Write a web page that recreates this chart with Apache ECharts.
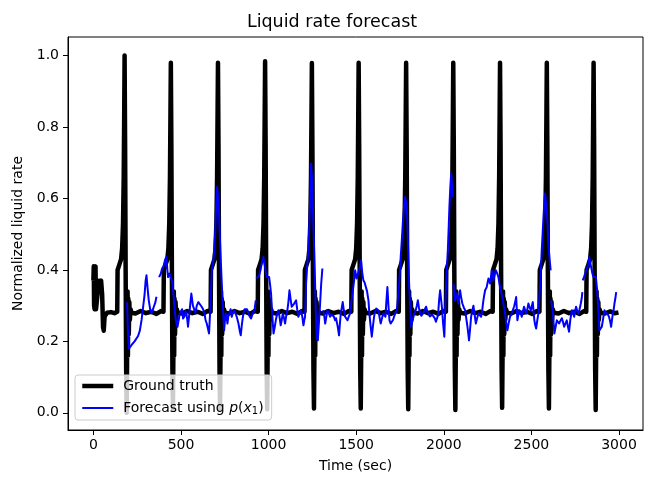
<!DOCTYPE html>
<html>
<head>
<meta charset="utf-8">
<script src="https://cdn.jsdelivr.net/npm/echarts@6/dist/echarts.min.js"></script>
<style>html,body{margin:0;padding:0;background:#fff;}#c{width:664px;height:490px;}</style>
</head>
<body>
<div id="c"></div>
<script>
// Tick values
const xTicks = [0, 500, 1000, 1500, 2000, 2500, 3000];
const yTicks = [0.0, 0.2, 0.4, 0.6, 0.8, 1.0];

// Ground truth: [time (sec), normalized liquid rate]
const groundTruth = [
[0,0.37],[2,0.41],[4,0.30],[7,0.29],[9,0.40],[12,0.41],[15,0.29],[20,0.29],[27,0.35],[32,0.37],[38,0.36],[44,0.37],[50,0.33],[55,0.24],[59,0.23],[64,0.27],[70,0.27],[78,0.28],[100,0.282],[120,0.279],
[136,0.283],[138,0.40],[148,0.415],[158,0.43],[164,0.46],[169,0.53],[173,0.66],[176,0.85],[178,1.0],[181,0.75],[184,0.40],[187,0.12],[190,0.0],[193,0.20],[195,0.34],[197,0.16],[199,0.32],[202,0.22],[205,0.31],[208,0.26],[212,0.29],[218,0.28],
[240,0.278],[270,0.285],[300,0.279],[330,0.283],[360,0.277],[385,0.285],
[400,0.283],[402,0.40],[412,0.415],[422,0.43],[428,0.46],[433,0.53],[437,0.66],[440,0.85],[442,0.98],[445,0.75],[448,0.40],[451,0.12],[454,0.01],[457,0.20],[459,0.34],[461,0.16],[463,0.32],[466,0.22],[469,0.31],[472,0.26],[476,0.29],[482,0.28],
[505,0.278],[535,0.285],[565,0.279],[595,0.283],[625,0.277],[652,0.285],
[669,0.283],[671,0.40],[681,0.415],[691,0.43],[697,0.46],[702,0.53],[706,0.66],[709,0.85],[711,0.98],[714,0.75],[717,0.40],[720,0.12],[723,0.01],[726,0.20],[728,0.34],[730,0.16],[732,0.32],[735,0.22],[738,0.31],[741,0.26],[745,0.29],[751,0.28],
[775,0.278],[805,0.285],[835,0.279],[865,0.283],[895,0.277],[920,0.285],
[938,0.283],[940,0.40],[950,0.415],[960,0.43],[966,0.46],[971,0.53],[975,0.66],[978,0.85],[980,0.984],[983,0.75],[986,0.40],[989,0.12],[992,0.01],[995,0.20],[997,0.34],[999,0.16],[1001,0.32],[1004,0.22],[1007,0.31],[1010,0.26],[1014,0.29],[1020,0.28],
[1045,0.278],[1075,0.285],[1105,0.279],[1135,0.283],[1165,0.277],[1190,0.285],
[1205,0.283],[1207,0.40],[1217,0.415],[1227,0.43],[1233,0.46],[1238,0.53],[1242,0.66],[1245,0.85],[1247,0.979],[1250,0.75],[1253,0.40],[1256,0.12],[1259,0.012],[1262,0.20],[1264,0.34],[1266,0.16],[1268,0.32],[1271,0.22],[1274,0.31],[1277,0.26],[1281,0.29],[1287,0.28],
[1310,0.278],[1340,0.285],[1370,0.279],[1400,0.283],[1430,0.277],[1458,0.285],
[1472,0.283],[1474,0.40],[1484,0.415],[1494,0.43],[1500,0.46],[1505,0.53],[1509,0.66],[1512,0.85],[1514,0.98],[1517,0.75],[1520,0.40],[1523,0.12],[1526,0.012],[1529,0.20],[1531,0.34],[1533,0.16],[1535,0.32],[1538,0.22],[1541,0.31],[1544,0.26],[1548,0.29],[1554,0.28],
[1580,0.278],[1610,0.285],[1640,0.279],[1670,0.283],[1700,0.277],[1728,0.285],
[1743,0.283],[1745,0.40],[1755,0.415],[1765,0.43],[1771,0.46],[1776,0.53],[1780,0.66],[1783,0.85],[1785,0.98],[1788,0.75],[1791,0.40],[1794,0.12],[1797,0.01],[1800,0.20],[1802,0.34],[1804,0.16],[1806,0.32],[1809,0.22],[1812,0.31],[1815,0.26],[1819,0.29],[1825,0.28],
[1850,0.278],[1880,0.285],[1910,0.279],[1940,0.283],[1970,0.277],[1998,0.285],
[2012,0.283],[2014,0.40],[2024,0.415],[2034,0.43],[2040,0.46],[2045,0.53],[2049,0.66],[2052,0.85],[2054,0.98],[2057,0.75],[2060,0.40],[2063,0.12],[2066,0.008],[2069,0.20],[2071,0.34],[2073,0.16],[2075,0.32],[2078,0.22],[2081,0.31],[2084,0.26],[2088,0.29],[2094,0.28],
[2120,0.278],[2150,0.285],[2180,0.279],[2210,0.283],[2240,0.277],[2265,0.285],
[2279,0.283],[2281,0.40],[2291,0.415],[2301,0.43],[2307,0.46],[2312,0.53],[2316,0.66],[2319,0.85],[2321,0.98],[2324,0.75],[2327,0.40],[2330,0.12],[2333,0.014],[2336,0.20],[2338,0.34],[2340,0.16],[2342,0.32],[2345,0.22],[2348,0.31],[2351,0.26],[2355,0.29],[2361,0.28],
[2385,0.278],[2415,0.285],[2445,0.279],[2475,0.283],[2505,0.277],[2532,0.285],
[2546,0.283],[2548,0.40],[2558,0.415],[2568,0.43],[2574,0.46],[2579,0.53],[2583,0.66],[2586,0.85],[2588,0.98],[2591,0.75],[2594,0.40],[2597,0.12],[2600,0.012],[2603,0.20],[2605,0.34],[2607,0.16],[2609,0.32],[2612,0.22],[2615,0.31],[2618,0.26],[2622,0.29],[2628,0.28],
[2655,0.278],[2685,0.285],[2715,0.279],[2745,0.283],[2775,0.277],[2800,0.285],
[2813,0.283],[2815,0.40],[2825,0.415],[2835,0.43],[2841,0.46],[2846,0.53],[2850,0.66],[2853,0.85],[2855,0.98],[2858,0.75],[2861,0.40],[2864,0.12],[2867,0.008],[2870,0.20],[2872,0.34],[2874,0.16],[2876,0.32],[2879,0.22],[2882,0.31],[2885,0.26],[2889,0.29],[2895,0.28],
[2920,0.278],[2950,0.284],[2975,0.279],[2997,0.281]
];

// Forecast using p(x1): [time (sec), value]; null marks a break between segments
const forecast = [
[192,0.31],[197,0.23],[203,0.18],[210,0.175],[218,0.19],[225,0.185],[235,0.20],[245,0.205],[255,0.215],[265,0.23],[275,0.26],[284,0.297],[292,0.33],[298,0.37],[303,0.385],[309,0.35],[316,0.315],[324,0.29],[331,0.279],[340,0.29],[347,0.293],[354,0.31],[360,0.325],[367,null],
[375,0.38],[385,0.39],[392,0.404],[400,0.41],[410,0.43],[417,0.436],[422,0.40],[426,0.38],[434,0.39],[442,0.385],[448,0.37],[455,0.343],[462,0.30],[468,0.269],[474,0.25],[480,0.241],[487,0.26],[493,0.278],[500,0.28],[506,0.29],[512,0.264],[520,0.27],[526,0.285],[531,0.278],[536,0.26],[540,0.241],[548,0.28],[554,0.31],[559,0.334],[568,0.30],[575,0.295],[582,0.28],[590,0.30],[599,0.31],[608,0.305],[618,0.297],[626,0.29],[634,0.278],[640,0.26],[647,0.25],[654,0.235],[660,0.222],[665,0.27],[670,0.315],[676,0.399],[685,0.427],[690,0.46],[695,0.502],[700,0.57],[706,0.632],[712,0.60],[718,0.548],[722,0.49],[727,0.427],[732,0.37],[737,0.315],[742,0.27],[746,0.231],[751,0.26],[756,0.278],[760,0.27],[765,0.25],[770,0.27],[776,0.278],[783,0.29],[790,0.269],[796,0.28],[803,0.287],[810,0.28],[818,0.269],[823,0.26],[828,0.25],[835,0.23],[841,0.217],[848,0.25],[856,0.278],[863,0.29],[870,0.287],[877,0.29],[885,0.278],[892,0.27],[900,0.264],[907,0.275],[913,0.278],[920,0.29],[927,0.315],[929,null],
[930,0.376],[938,0.38],[946,0.385],[954,0.40],[961,0.418],[970,0.436],[975,0.42],[980,0.408],[985,0.39],[990,0.38],[997,0.385],[1003,0.38],[1008,0.36],[1014,0.334],[1020,0.28],[1028,0.222],[1035,0.24],[1041,0.259],[1048,0.275],[1056,0.287],[1062,0.27],[1069,0.245],[1075,0.26],[1081,0.278],[1088,0.265],[1094,0.25],[1100,0.27],[1107,0.287],[1113,0.31],[1119,0.343],[1125,0.32],[1132,0.297],[1139,0.30],[1146,0.306],[1151,0.31],[1157,0.315],[1163,0.29],[1170,0.269],[1178,0.28],[1185,0.287],[1192,0.27],[1199,0.245],[1204,0.26],[1208,0.269],[1214,0.362],[1220,0.41],[1227,0.455],[1232,0.52],[1237,0.595],[1243,0.698],[1248,0.65],[1252,0.595],[1256,0.52],[1260,0.455],[1265,0.37],[1269,0.287],[1275,0.21],[1281,0.203],[1287,0.25],[1294,0.306],[1300,0.36],[1307,0.404],[1309,null],
[1311,0.287],[1318,0.27],[1323,0.25],[1330,0.27],[1336,0.287],[1343,0.28],[1351,0.269],[1358,0.275],[1364,0.278],[1372,0.27],[1380,0.259],[1385,0.265],[1389,0.269],[1395,0.24],[1402,0.217],[1407,0.25],[1412,0.278],[1418,0.295],[1423,0.31],[1430,0.285],[1437,0.269],[1443,0.265],[1450,0.259],[1458,0.27],[1465,0.278],[1472,0.31],[1481,0.343],[1488,0.37],[1494,0.399],[1499,0.385],[1503,0.376],[1510,0.39],[1517,0.399],[1522,0.41],[1528,0.427],[1535,0.39],[1541,0.371],[1548,0.365],[1555,0.362],[1562,0.34],[1570,0.315],[1575,0.28],[1579,0.259],[1584,0.235],[1589,0.213],[1595,0.24],[1602,0.269],[1608,0.285],[1614,0.292],[1620,0.29],[1627,0.287],[1634,0.265],[1640,0.25],[1647,0.265],[1655,0.278],[1661,0.275],[1667,0.269],[1672,0.31],[1678,0.352],[1684,0.30],[1690,0.259],[1697,0.25],[1703,0.245],[1710,0.26],[1716,0.269],[1724,0.28],[1732,0.287],[1738,0.32],[1745,0.362],[1750,0.40],[1754,0.436],[1760,0.48],[1766,0.53],[1772,0.57],[1779,0.604],[1785,0.59],[1789,0.576],[1794,0.502],[1798,0.43],[1802,0.362],[1808,0.30],[1813,0.241],[1820,0.255],[1827,0.269],[1833,0.28],[1840,0.287],[1846,0.30],[1852,0.315],[1858,0.295],[1865,0.278],[1872,0.272],[1878,0.269],[1884,0.28],[1889,0.287],[1894,0.292],[1899,0.297],[1905,0.285],[1912,0.278],[1920,0.27],[1927,0.269],[1934,0.275],[1941,0.27],[1948,0.265],[1955,0.255],[1960,0.25],[1965,0.27],[1969,0.287],[1974,0.32],[1979,0.343],[1984,0.32],[1989,0.297],[1996,0.25],[2003,0.213],[2008,0.29],[2013,0.362],[2018,0.41],[2023,0.455],[2028,0.52],[2032,0.576],[2037,0.63],[2042,0.67],[2047,0.64],[2051,0.604],[2053,null],
[2055,0.362],[2060,0.33],[2064,0.315],[2069,0.325],[2074,0.334],[2079,0.32],[2083,0.306],[2088,0.325],[2093,0.343],[2100,0.32],[2106,0.306],[2114,0.295],[2122,0.287],[2128,0.265],[2135,0.241],[2140,0.22],[2144,0.203],[2150,0.235],[2156,0.269],[2162,0.285],[2169,0.30],[2176,0.275],[2183,0.25],[2190,0.265],[2198,0.278],[2205,0.275],[2213,0.269],[2220,0.29],[2226,0.315],[2231,0.33],[2236,0.343],[2240,0.348],[2245,0.352],[2250,0.365],[2255,0.376],[2260,0.37],[2264,0.362],[2269,0.38],[2274,0.399],[2279,0.385],[2283,0.371],[2290,0.385],[2297,0.399],[2305,0.39],[2312,0.38],[2318,0.36],[2325,0.343],[2331,0.33],[2337,0.315],[2344,0.295],[2350,0.278],[2357,0.25],[2363,0.231],[2370,0.25],[2378,0.269],[2385,0.275],[2392,0.285],[2401,0.297],[2407,0.31],[2413,0.324],[2420,0.259],[2426,0.275],[2431,0.287],[2438,0.28],[2445,0.269],[2452,0.285],[2458,0.297],[2464,0.288],[2470,0.278],[2477,0.29],[2483,0.306],[2490,0.295],[2497,0.287],[2503,0.30],[2508,0.31],[2513,0.28],[2517,0.259],[2522,0.245],[2527,0.236],[2534,0.26],[2540,0.278],[2545,0.32],[2550,0.362],[2555,0.41],[2559,0.455],[2564,0.50],[2569,0.548],[2574,0.59],[2578,0.614],[2583,0.59],[2588,0.567],[2593,0.52],[2597,0.473],[2604,0.43],[2610,0.399],[2611,null],
[2612,0.315],[2617,0.30],[2622,0.287],[2627,0.25],[2631,0.222],[2638,0.24],[2645,0.259],[2652,0.255],[2658,0.25],[2666,0.258],[2674,0.265],[2680,0.255],[2687,0.241],[2694,0.25],[2702,0.259],[2709,0.24],[2715,0.227],[2722,0.26],[2731,0.287],[2737,0.28],[2744,0.269],[2750,0.285],[2755,0.297],[2762,0.285],[2768,0.278],[2775,0.29],[2782,0.306],[2787,0.32],[2791,0.338],[2792,null],
[2793,0.371],[2800,0.38],[2807,0.39],[2814,0.40],[2820,0.408],[2826,0.42],[2831,0.436],[2836,0.42],[2841,0.408],[2848,0.39],[2854,0.38],[2861,0.38],[2868,0.38],[2874,0.35],[2879,0.315],[2884,0.27],[2888,0.231],[2895,0.236],[2902,0.241],[2910,0.265],[2917,0.287],[2924,0.28],[2931,0.278],[2937,0.275],[2943,0.269],[2950,0.255],[2955,0.241],[2960,0.26],[2965,0.278],[2970,0.29],[2974,0.306],[2979,0.32],[2984,0.338]
];

const FONT = 'DejaVu Sans';
const FS = 14;
const chart = echarts.init(document.getElementById('c'), null, {renderer: 'canvas'});
chart.setOption({
  animation: false,
  backgroundColor: '#ffffff',
  title: {
    text: 'Liquid rate forecast',
    left: 'center',
    top: 8,
    textStyle: {fontFamily: FONT, fontSize: 17.5, fontWeight: 'normal', color: '#000'}
  },
  grid: {
    left: 68, right: 21, top: 37, bottom: 60,
    show: true, borderColor: '#000', borderWidth: 1, backgroundColor: 'transparent',
    containLabel: false
  },
  legend: {
    left: 75, top: 375,
    orient: 'vertical',
    padding: [4, 8, 4, 5],
    itemWidth: 31, itemHeight: 14, itemGap: 8,
    backgroundColor: 'rgba(255,255,255,0.8)',
    borderColor: '#cccccc', borderWidth: 1, borderRadius: 3,
    itemStyle: {opacity: 0},
    data: [
      {name: 'Ground truth', lineStyle: {width: 4.5, color: '#000000'}},
      {name: 'Forecast', lineStyle: {width: 2, color: '#0000ff'}}
    ],
    formatter: function (name) {
      if (name === 'Forecast') return '{n|Forecast using }{i|p}{n|(}{i|x}{s|1}{n|)}';
      return '{n|' + name + '}';
    },
    textStyle: {
      fontFamily: FONT, fontSize: FS, color: '#000', padding: [0, 0, 0, 5],
      rich: {
        n: {fontFamily: FONT, fontSize: FS, color: '#000'},
        i: {fontFamily: FONT, fontSize: FS, color: '#000', fontStyle: 'italic'},
        s: {fontFamily: FONT, fontSize: 10, color: '#000', padding: [6, 0, 0, 0]}
      }
    }
  },
  xAxis: {
    type: 'value',
    min: -145, max: 3137,
    name: 'Time (sec)',
    nameLocation: 'middle',
    nameGap: 29,
    nameTextStyle: {fontFamily: FONT, fontSize: FS, color: '#000'},
    axisLine: {show: true, onZero: false, lineStyle: {color: '#000', width: 1}},
    axisTick: {show: true, inside: false, length: 5, customValues: xTicks, lineStyle: {color: '#000'}},
    axisLabel: {show: true, margin: 8, customValues: xTicks, fontFamily: FONT, fontSize: FS, color: '#000',
      formatter: function (v) { return String(v); }},
    splitLine: {show: false}
  },
  yAxis: {
    type: 'value',
    min: -0.048, max: 1.052,
    name: 'Normalized liquid rate',
    nameLocation: 'middle',
    nameGap: 36,
    nameRotate: 90,
    nameTextStyle: {fontFamily: FONT, fontSize: FS, color: '#000'},
    axisLine: {show: true, onZero: false, lineStyle: {color: '#000', width: 1}},
    axisTick: {show: true, inside: false, length: 5, customValues: yTicks, lineStyle: {color: '#000'}},
    axisLabel: {show: true, margin: 9, customValues: yTicks, fontFamily: FONT, fontSize: FS, color: '#000',
      formatter: function (v) { return v.toFixed(1); }},
    splitLine: {show: false}
  },
  series: [
    {
      name: 'Ground truth', type: 'line', data: groundTruth,
      symbol: 'none', showSymbol: false, sampling: null, connectNulls: false, z: 2,
      lineStyle: {color: '#000000', width: 4.5, join: 'round', cap: 'butt'},
      itemStyle: {color: '#000000'}
    },
    {
      name: 'Forecast', type: 'line', data: forecast,
      symbol: 'none', showSymbol: false, connectNulls: false, z: 3,
      lineStyle: {color: '#0000ff', width: 2, join: 'round'},
      itemStyle: {color: '#0000ff'}
    }
  ]
});
</script>
</body>
</html>
